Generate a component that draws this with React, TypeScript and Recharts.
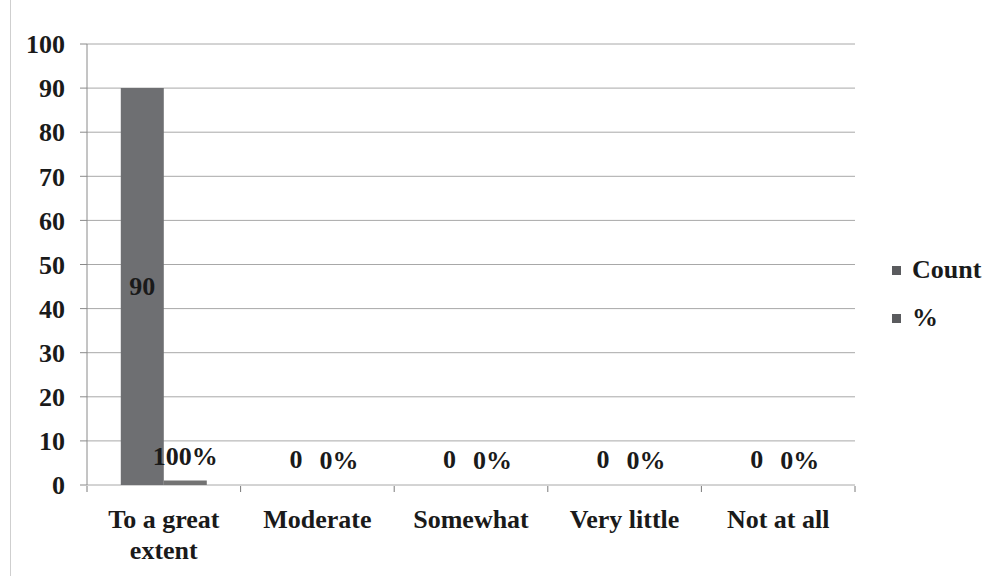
import { BarChart, Bar, XAxis, YAxis, CartesianGrid, Legend, LabelList } from 'recharts'

const categories = ['To a great extent', 'Moderate', 'Somewhat', 'Very little', 'Not at all']
const countValues = [90, 0, 0, 0, 0]
const percentValues = [1, 0, 0, 0, 0]
const yTicks = [0, 10, 20, 30, 40, 50, 60, 70, 80, 90, 100]

const data = categories.map((name, i) => ({
  name,
  idx: i + 0.5,
  count: countValues[i],
  pct: percentValues[i],
}))
const boundaries = categories.map((_, i) => i).concat(categories.length)

const FONT = '"Liberation Serif", "Times New Roman", serif'
const textStyle = { fontFamily: FONT, fontWeight: 700, fontSize: 26, fill: '#1a1a1a' }

// break long category names into lines of at most 11 chars
function wrapWords(s: string, max = 11) {
  const lines: string[] = []
  let cur = ''
  for (const w of s.split(' ')) {
    const next = cur ? cur + ' ' + w : w
    if (next.length > max && cur) {
      lines.push(cur)
      cur = w
    } else cur = next
  }
  if (cur) lines.push(cur)
  return lines
}

function CategoryTick(props: any) {
  const { x, y, payload } = props
  const lines = wrapWords(String(payload.value))
  return (
    <text x={x} y={y + 35} textAnchor="middle" style={textStyle}>
      {lines.map((l, i) => (
        <tspan key={i} x={x} dy={i === 0 ? 0 : 31}>
          {l}
        </tspan>
      ))}
    </text>
  )
}

function countLabel(props: any) {
  const { x, y, width, height, value } = props
  const cx = x + width / 2
  const cy = value > 0 ? y + height / 2 : y - 25
  return (
    <text x={cx} y={cy} textAnchor="middle" dominantBaseline="central" style={textStyle}>
      {value}
    </text>
  )
}

function pctLabel(props: any) {
  const { x, y, width, value } = props
  return (
    <text x={x + width / 2} y={y - 24} textAnchor="middle" dominantBaseline="central" style={textStyle}>
      {Math.round(value * 100)}%
    </text>
  )
}

function LegendBox() {
  const items = [
    { label: 'Count', color: '#5a5b5e' },
    { label: '%', color: '#5a5b5e' },
  ]
  return (
    <div style={{ fontFamily: FONT, fontWeight: 700, fontSize: 26, color: '#1a1a1a' }}>
      {items.map((it) => (
        <div key={it.label} style={{ display: 'flex', alignItems: 'center', height: 48 }}>
          <span style={{ width: 9, height: 9, background: it.color, marginRight: 11 }} />
          {it.label}
        </div>
      ))}
    </div>
  )
}

export default function App() {
  return (
    <div style={{ position: 'absolute', left: 0, top: 0, width: 999, height: 576, background: '#fff' }}>
      <div style={{ position: 'absolute', left: 10, top: 0, width: 1, height: 576, background: '#cfcfcf' }} />
      <BarChart
        width={999}
        height={576}
        data={data}
        margin={{ top: 44, right: 144, bottom: 0, left: 0 }}
        barCategoryGap="22%"
        barGap={0}
      >
        <CartesianGrid vertical={false} stroke="#a8a8a8" />
        <XAxis
          dataKey="name"
          tick={<CategoryTick />}
          tickLine={false}
          axisLine={false}
          interval={0}
          height={1}
        />
        <XAxis
          xAxisId="bounds"
          type="number"
          dataKey="idx"
          domain={[0, categories.length]}
          ticks={boundaries}
          interval={0}
          tick={() => <g />}
          tickSize={6}
          tickLine={{ stroke: '#7a7a7a' }}
          axisLine={false}
          height={90}
        />
        <YAxis
          domain={[0, 100]}
          ticks={yTicks}
          width={87}
          tickSize={7}
          tickMargin={15}
          tick={textStyle}
          tickLine={{ stroke: '#8a8a8a' }}
          axisLine={{ stroke: '#8a8a8a' }}
        />
        <Legend
          layout="vertical"
          align="center"
          verticalAlign="middle"
          content={<LegendBox />}
          wrapperStyle={{ left: 892, top: 246, width: 105 }}
        />
        <Bar dataKey="count" name="Count" fill="#6e6f72" minPointSize={0.01} isAnimationActive={false}>
          <LabelList dataKey="count" content={countLabel} />
        </Bar>
        <Bar dataKey="pct" name="%" fill="#737373" minPointSize={0.01} isAnimationActive={false}>
          <LabelList dataKey="pct" content={pctLabel} />
        </Bar>
      </BarChart>
    </div>
  )
}
